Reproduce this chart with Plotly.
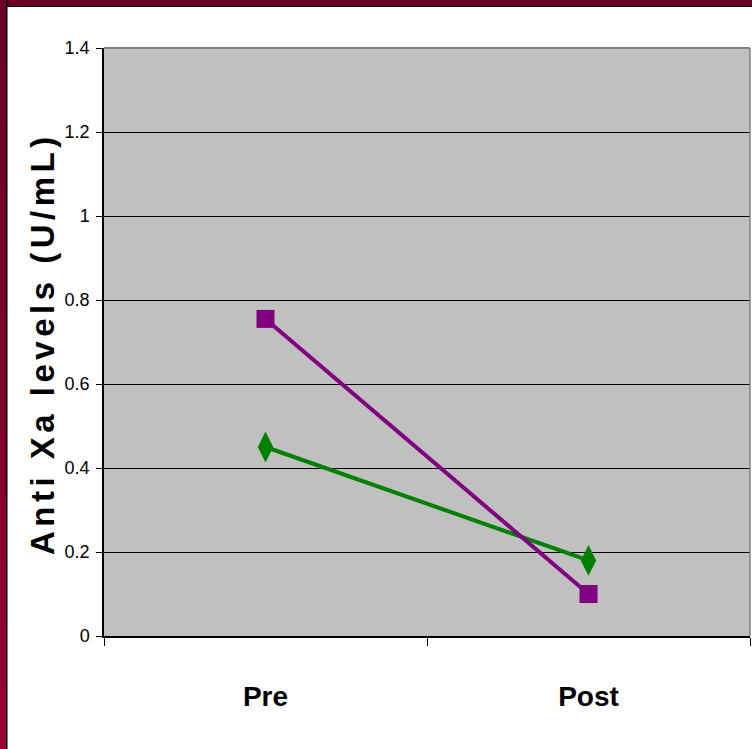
import plotly.graph_objects as go

categories = ["Pre", "Post"]
series_green = [0.45, 0.18]
series_purple = [0.755, 0.10]
y_ticks = [0, 0.2, 0.4, 0.6, 0.8, 1.0, 1.2, 1.4]
y_title = "Anti Xa levels (U/mL)"

W, H = 752, 749
L, R, T, B = 104, 750, 48, 636  # plot area in pixels


def px(x):
    return (x - L) / (R - L)


def py(y):
    return (B - y) / (B - T)


fig = go.Figure()
fig.add_trace(go.Scatter(
    x=categories, y=series_green, mode="lines+markers",
    line=dict(color="#008000", width=4),
    marker=dict(symbol="diamond-tall", size=22, color="#008000"),
    showlegend=False, cliponaxis=False))
fig.add_trace(go.Scatter(
    x=categories, y=series_purple, mode="lines+markers",
    line=dict(color="#800080", width=4),
    marker=dict(symbol="square", size=18, color="#800080"),
    showlegend=False, cliponaxis=False))

shapes = []
# plot frame top/right (gray)
shapes.append(dict(type="line", xref="paper", yref="paper", x0=0, x1=1, y0=1, y1=1,
                   line=dict(color="#808080", width=2), layer="above"))
shapes.append(dict(type="line", xref="paper", yref="paper", x0=1, x1=1, y0=0, y1=1,
                   line=dict(color="#808080", width=1.5), layer="above"))
# decorative maroon border top and left
shapes.append(dict(type="rect", xref="paper", yref="paper", x0=px(0), x1=px(W), y0=py(0), y1=py(7),
                   fillcolor="#000000", line=dict(width=0), layer="above"))
shapes.append(dict(type="rect", xref="paper", yref="paper", x0=px(0), x1=px(W), y0=py(0), y1=py(6),
                   fillcolor="#6a0024", line=dict(width=0), layer="above"))
shapes.append(dict(type="rect", xref="paper", yref="paper", x0=px(0), x1=px(7.5), y0=py(0), y1=py(H),
                   fillcolor="#000000", line=dict(width=0), layer="above"))
n = 12
for i in range(n):
    t = i / (n - 1)
    r = int(0x6a + (0x99 - 0x6a) * t)
    g = 0
    b = int(0x24 + (0x33 - 0x24) * t)
    shapes.append(dict(type="rect", xref="paper", yref="paper", x0=px(0), x1=px(6),
                       y0=py(i * H / n), y1=py((i + 1) * H / n + 1),
                       fillcolor=f"rgb({r},{g},{b})", line=dict(width=0), layer="above"))

fig.update_layout(
    width=W, height=H,
    margin=dict(l=L, r=W - R, t=T, b=H - B),
    paper_bgcolor="white", plot_bgcolor="#C0C0C0",
    shapes=shapes,
    annotations=[dict(
        text='<span style="letter-spacing:4.5px">' + y_title + '</span>',
        xref="paper", yref="paper", x=px(42), y=py(344), xanchor="center", yanchor="middle",
        textangle=-90, showarrow=False,
        font=dict(family="Liberation Sans, Arial, sans-serif", size=33, color="black", weight="bold"))],
    xaxis=dict(
        type="category", range=[-0.5, 1.5], tickson="boundaries",
        ticks="outside", ticklen=8, tickcolor="black", tickwidth=1,
        showline=True, linecolor="black", linewidth=1.5, showgrid=False,
        ticklabelstandoff=35,
        tickfont=dict(family="Liberation Sans, Arial, sans-serif",
                      size=28, color="black", weight="bold")),
    yaxis=dict(
        range=[0, 1.4], tickvals=y_ticks, ticks="outside", ticklen=6, tickcolor="black",
        showline=True, linecolor="black", linewidth=1.5,
        showgrid=True, gridcolor="black", gridwidth=1, zeroline=False,
        ticklabelstandoff=3,
        tickfont=dict(family="Liberation Sans, Arial, sans-serif",
                      size=18, color="black")),
)

fig.write_html("out.html", config={"displayModeBar": False},
               post_script="document.body.style.margin='0';")
